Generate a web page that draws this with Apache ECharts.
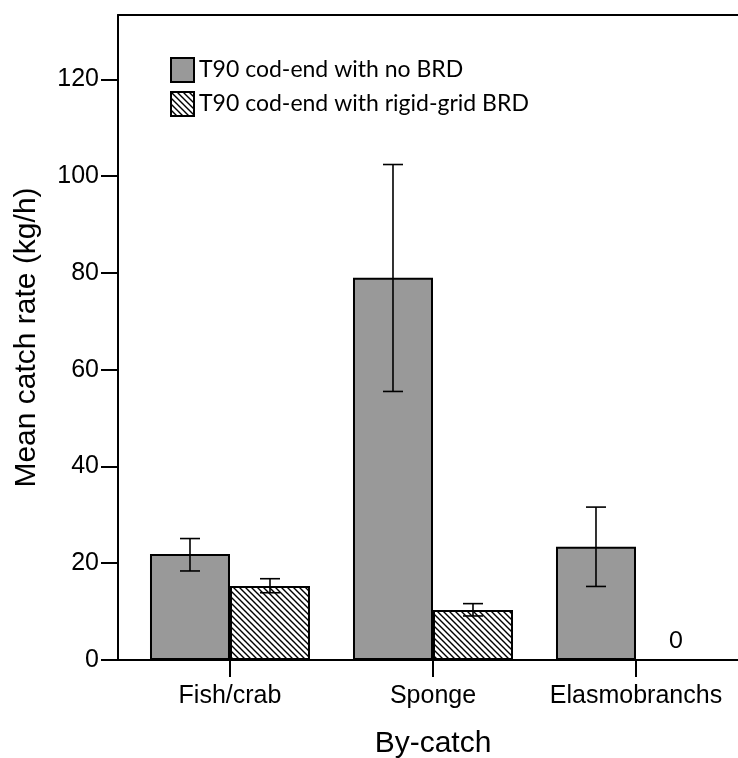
<!DOCTYPE html>
<html><head><meta charset="utf-8">
<script src="https://cdn.jsdelivr.net/npm/echarts@6/dist/echarts.min.js"></script>
<style>html,body{margin:0;padding:0;background:#fff}#c{width:738px;height:758px}</style>
</head><body><div id="c"></div>
<script>
// ---- data ----
const categories = ['Fish/crab', 'Sponge', 'Elasmobranchs'];
const seriesNames = ['T90 cod-end with no BRD', 'T90 cod-end with rigid-grid BRD'];
const noBrdMean = [21.9, 79.0, 23.4];
const noBrdLow  = [18.4, 55.5, 15.2];
const noBrdHigh = [25.1, 102.4, 31.6];
const gridMean  = [15.3, 10.35, 0];
const gridLow   = [13.9, 9.1, null];
const gridHigh  = [16.8, 11.65, null];
const yTicks = [0, 20, 40, 60, 80, 100, 120];
const xTicks = [0, 1, 2];

// ---- style constants ----
const BAR_W = 80, CAP_W = 20;
const SANS = '"Liberation Sans", Arial, sans-serif';

function hatch() {
  const s = 6, c = document.createElement('canvas');
  c.width = s; c.height = s;
  const g = c.getContext('2d');
  g.fillStyle = '#fff'; g.fillRect(0, 0, s, s);
  g.strokeStyle = '#000'; g.lineWidth = 1.4;
  g.beginPath();
  g.moveTo(-1, -1); g.lineTo(s + 1, s + 1);
  g.moveTo(-1, s - 1); g.lineTo(1, s + 1);
  g.moveTo(s - 1, -1); g.lineTo(s + 1, 1);
  g.stroke();
  return c;
}

const grayData = noBrdMean.map((v, i) => [i, v]);
const hatchData = gridMean.map((v, i) => v === 0
  ? { value: [i, v], label: { show: true } }
  : [i, v]);
const errData = [];
noBrdMean.forEach((v, i) => { if (noBrdLow[i] != null) errData.push([i, noBrdLow[i], noBrdHigh[i], -1]); });
gridMean.forEach((v, i) => { if (gridLow[i] != null) errData.push([i, gridLow[i], gridHigh[i], 1]); });

function errRender(params, api) {
  const x = api.value(0), lo = api.value(1), hi = api.value(2), side = api.value(3);
  const pLo = api.coord([x, lo]), pHi = api.coord([x, hi]);
  const cx = pLo[0] + side * BAR_W / 2, h = CAP_W / 2;
  const st = { stroke: '#000', lineWidth: 1.6, fill: null };
  return { type: 'group', children: [
    { type: 'line', shape: { x1: cx, y1: pHi[1], x2: cx, y2: pLo[1] }, style: st },
    { type: 'line', shape: { x1: cx - h, y1: pHi[1], x2: cx + h, y2: pHi[1] }, style: st },
    { type: 'line', shape: { x1: cx - h, y1: pLo[1], x2: cx + h, y2: pLo[1] }, style: st }
  ]};
}

const chart = echarts.init(document.getElementById('c'), null, { renderer: 'canvas' });
const XMIN = -0.5517, XMAX = 2.5025;
chart.setOption({
  animation: false,
  backgroundColor: '#fff',
  grid: { left: 118, right: 0, top: 15, bottom: 98, containLabel: false, outerBoundsMode: 'none' },
  legend: {
    orient: 'vertical', left: 170, top: 57, padding: 0, itemWidth: 23, itemHeight: 24, itemGap: 8,
    icon: 'rect', data: seriesNames,
    textStyle: { fontFamily: 'Lato', fontSize: 23, color: '#000' }
  },
  xAxis: [{
    type: 'value', min: XMIN, max: XMAX,
    name: 'By-catch', nameLocation: 'middle', nameGap: 69,
    nameTextStyle: { fontFamily: SANS, fontSize: 30, color: '#000', padding: [0, 0, 0, 10] },
    axisLine: { show: true, onZero: false, lineStyle: { color: '#000', width: 2 } },
    axisTick: { show: true, inside: false, length: 17, customValues: xTicks, lineStyle: { color: '#000', width: 2 } },
    axisLabel: { customValues: xTicks, margin: 24, fontFamily: SANS, fontSize: 25, color: '#000',
      formatter: v => categories[Math.round(v)] },
    splitLine: { show: false }
  }, {
    type: 'value', position: 'top', min: XMIN, max: XMAX,
    axisLine: { show: true, onZero: false, lineStyle: { color: '#000', width: 2 } },
    axisTick: { show: false }, axisLabel: { show: false }, splitLine: { show: false }
  }],
  yAxis: {
    type: 'value', min: 0, max: 133.3,
    name: 'Mean catch rate (kg/h)', nameLocation: 'middle', nameGap: 76,
    nameTextStyle: { fontFamily: SANS, fontSize: 30, color: '#000' },
    axisLine: { show: true, onZero: false, lineStyle: { color: '#000', width: 2 } },
    axisTick: { show: true, inside: false, length: 17, customValues: yTicks, lineStyle: { color: '#000', width: 2 } },
    axisLabel: { customValues: yTicks, margin: 19, fontFamily: SANS, fontSize: 25, color: '#000' },
    splitLine: { show: false }
  },
  series: [{
    name: seriesNames[0], type: 'bar', barWidth: BAR_W, barGap: '0%',
    itemStyle: { color: '#999999', borderColor: '#000', borderWidth: 2 },
    data: grayData
  }, {
    name: seriesNames[1], type: 'bar', barWidth: BAR_W, barGap: '0%',
    itemStyle: { color: { image: hatch(), repeat: 'repeat' }, borderColor: '#000', borderWidth: 2 },
    label: { show: false, position: 'top', distance: 7, fontFamily: 'Lato', fontSize: 23, color: '#000',
      formatter: p => String(p.value[1]) },
    data: hatchData
  }, {
    type: 'custom', renderItem: errRender, data: errData, z: 10, silent: true,
    encode: { x: 0, y: [1, 2] }
  }]
});
</script></body></html>
